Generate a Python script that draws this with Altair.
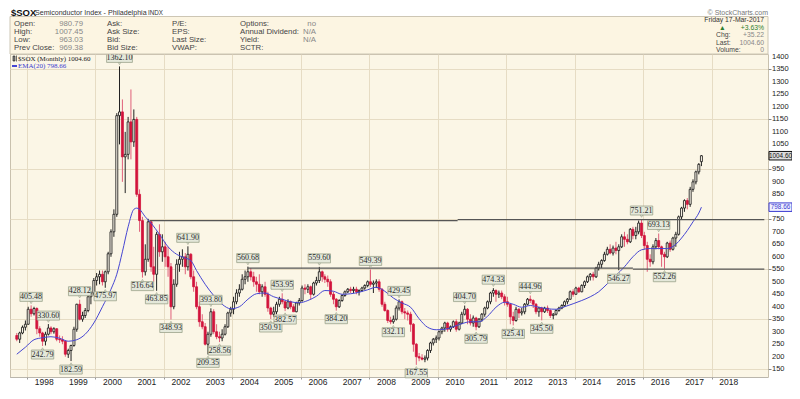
import altair as alt
import pandas as pd

FIRST_MONTH = "1997-03-01"

# Monthly OHLC of $SOX, Mar 1997 .. Mar 2017
O = [285, 270, 295, 318, 330, 390, 372, 393, 312, 295,
     262, 290, 315, 300, 312, 270, 268, 262, 210, 225, 245, 310,
     410, 350, 365, 385, 440, 455, 505, 520, 530, 500, 540, 612,
     700, 770, 1165, 1180, 1000, 1010, 1140, 1060, 1150, 850, 745, 540,
     590, 740, 560, 530, 690, 620, 640, 600, 560, 400, 490, 570,
     590, 600, 560, 610, 520, 480, 400, 340, 320, 250, 290, 380,
     300, 280, 275, 290, 320, 375, 390, 420, 455, 470, 510, 520,
     540, 520, 500, 490, 460, 480, 450, 395, 370, 380, 410, 430,
     420, 395, 420, 400, 380, 415, 425, 475, 470, 480, 450, 495,
     505, 540, 520, 510, 500, 450, 430, 400, 425, 445, 460, 470,
     465, 470, 460, 465, 475, 485, 500, 490, 495, 500, 470, 410,
     385, 345, 340, 350, 395, 420, 380, 375, 370, 330, 250, 200,
     195, 190, 195, 225, 255, 270, 275, 300, 315, 335, 310, 320,
     340, 310, 335, 370, 390, 350, 335, 355, 320, 350, 370, 395,
     420, 455, 465, 450, 455, 440, 420, 410, 360, 345, 390, 375,
     380, 410, 430, 425, 410, 380, 395, 380, 395, 385, 365, 370,
     385, 395, 405, 420, 430, 460, 450, 475, 460, 485, 500, 520,
     530, 520, 555, 570, 585, 610, 630, 615, 635, 625, 640, 680,
     670, 660, 710, 685, 700, 735, 685, 645, 590, 580, 640, 665,
     640, 610, 600, 655, 630, 675, 690, 760, 795, 825, 810, 870,
     900, 940, 980.79]
H = [295, 300, 325, 345, 400, 405.48, 400, 398, 322, 300,
     300, 330.60, 322, 318, 314, 285, 282, 265, 232, 248, 320, 412,
     428.12, 380, 395, 450, 462, 515, 535, 545, 545, 545, 620, 710,
     790, 1175, 1362.10, 1230, 1100, 1160, 1270, 1190, 1160, 870, 760, 650,
     752, 745, 640, 700, 730, 690, 660, 640, 575, 510, 590, 620,
     630, 615, 641.90, 615, 545, 500, 420, 370, 335, 300, 393.80, 390,
     330, 300, 310, 330, 380, 400, 440, 470, 490, 530, 545, 560.68,
     555, 540, 520, 530, 490, 500, 460, 400, 400, 420, 440, 453.95,
     425, 430, 425, 410, 420, 435, 485, 490, 490, 485, 500, 520,
     559.60, 545, 530, 525, 510, 460, 435, 430, 450, 465, 475, 480,
     480, 480, 470, 480, 490, 505, 549.39, 505, 510, 510, 475, 420,
     390, 360, 365, 405, 429.45, 425, 395, 385, 380, 335, 255, 215,
     210, 205, 230, 260, 275, 285, 305, 320, 340, 340, 325, 345,
     350, 340, 380, 404.70, 395, 370, 365, 360, 355, 375, 400, 425,
     460, 474.33, 470, 465, 465, 450, 440, 415, 380, 400, 395, 395,
     415, 435, 444.96, 430, 415, 400, 400, 400, 405, 390, 375, 390,
     400, 410, 425, 435, 465, 470, 480, 480, 490, 505, 525, 535,
     540, 560, 580, 590, 620, 640, 650, 645, 660, 650, 690, 700,
     690, 715, 720, 720, 745, 751.21, 700, 660, 610, 650, 675, 693.13,
     645, 620, 660, 665, 680, 700, 765, 800, 830, 835, 880, 910,
     945, 975, 1007.45]
L = [262, 255, 290, 305, 328, 360, 365, 290, 280, 242.79,
     245, 285, 290, 292, 262, 255, 250, 200, 195, 182.59, 240, 300,
     345, 340, 355, 378, 410, 445, 485, 490, 485, 475.97, 530, 600,
     680, 760, 1050, 900, 855, 990, 990, 1040, 840, 700, 516.64, 525,
     580, 540, 500, 463.85, 600, 580, 560, 520, 348.93, 390, 480, 540,
     560, 530, 545, 510, 460, 390, 320, 310, 245, 209.35, 280, 290,
     270, 258.56, 262, 285, 315, 360, 370, 410, 440, 465, 490, 500,
     505, 480, 460, 450, 440, 440, 380, 350.91, 360, 370, 400, 410,
     382.57, 390, 390, 385, 378, 405, 420, 450, 455, 430, 445, 485,
     495, 500, 495, 480, 440, 410, 384.20, 395, 420, 440, 455, 455,
     455, 450, 445, 460, 468, 478, 480, 455, 475, 460, 400, 380,
     335, 330, 332.11, 345, 385, 370, 350, 345, 300, 220, 167.55, 182,
     185, 178, 185, 215, 245, 255, 265, 290, 300, 300, 300, 315,
     300, 305, 330, 365, 330, 325, 320, 305.79, 315, 340, 360, 390,
     410, 440, 420, 435, 430, 405, 400, 330, 325.41, 340, 355, 365,
     370, 405, 415, 395, 370, 360, 345.50, 375, 375, 355, 350, 365,
     380, 390, 400, 410, 428, 440, 448, 455, 458, 475, 495, 505,
     505, 515, 545, 555, 580, 605, 610, 605, 610, 546.27, 635, 640,
     650, 655, 670, 670, 690, 675, 630, 540, 560, 570, 630, 630,
     560, 552.26, 595, 620, 625, 640, 685, 750, 780, 790, 800, 860,
     890, 930, 963.03]
C = [270, 295, 318, 330, 390, 372, 393, 312, 295, 262,
     290, 315, 300, 312, 270, 268, 262, 210, 225, 245, 310, 410,
     350, 365, 385, 440, 455, 505, 520, 530, 500, 540, 612, 700,
     770, 1165, 1180, 1000, 1010, 1140, 1060, 1150, 850, 745, 540, 590,
     740, 560, 530, 690, 620, 640, 600, 560, 400, 490, 570, 590,
     600, 560, 610, 520, 480, 400, 340, 320, 250, 290, 380, 300,
     280, 275, 290, 320, 375, 390, 420, 455, 470, 510, 520, 540,
     520, 500, 490, 460, 480, 450, 395, 370, 380, 410, 430, 420,
     395, 420, 400, 380, 415, 425, 475, 470, 480, 450, 495, 505,
     540, 520, 510, 500, 450, 430, 400, 425, 445, 460, 470, 465,
     470, 460, 465, 475, 485, 500, 490, 495, 500, 470, 410, 385,
     345, 340, 350, 395, 420, 380, 375, 370, 330, 250, 200, 195,
     190, 195, 225, 255, 270, 275, 300, 315, 335, 310, 320, 340,
     310, 335, 370, 390, 350, 335, 355, 320, 350, 370, 395, 420,
     455, 465, 450, 455, 440, 420, 410, 360, 345, 390, 375, 380,
     410, 430, 425, 410, 380, 395, 380, 395, 385, 365, 370, 385,
     395, 405, 420, 430, 460, 450, 475, 460, 485, 500, 520, 530,
     520, 555, 570, 585, 610, 630, 615, 635, 625, 640, 680, 670,
     660, 710, 685, 700, 735, 685, 645, 590, 580, 640, 665, 640,
     610, 600, 655, 630, 675, 690, 760, 795, 825, 810, 870, 900,
     940, 970, 1004.60]

# EMA(20) (month index from Mar 1997, value)
EMA_IDX = [0, 3, 6, 9, 12, 15, 18, 21, 24, 27, 30, 33, 35, 37, 39, 41, 42, 43, 45, 47,
           50, 53, 56, 59, 61, 63, 66, 69, 72, 75, 78, 81, 84, 87, 90, 93, 96, 99, 102, 105,
           108, 111, 114, 117, 120, 123, 126, 129, 132, 135, 138, 141, 144, 147, 150, 153, 156, 159, 162, 165,
           168, 171, 174, 177, 180, 183, 186, 189, 192, 195, 198, 201, 204, 207, 210, 213, 216, 219, 222, 225,
           228, 231, 233, 235, 237, 239, 240]
EMA_VAL = [210, 238, 268, 276, 280, 274, 262, 268, 290, 335, 400, 470, 530, 620, 720, 790, 795, 790, 760, 735,
           690, 640, 610, 595, 585, 545, 490, 445, 410, 392, 400, 430, 452, 455, 440, 430, 420, 416, 425, 442,
           465, 462, 450, 452, 458, 468, 478, 462, 435, 415, 398, 352, 318, 308, 310, 320, 332, 340, 340, 362,
           398, 418, 410, 398, 405, 398, 392, 390, 400, 412, 425, 440, 460, 492, 525, 560, 600, 628, 633, 633,
           633, 650, 675, 705, 740, 775, 798.66]

# annotated highs / lows (month index, H = high label, L = low label)
ANN_IDX = [5, 9, 11, 19, 22, 31, 36, 44, 49, 54, 60, 67, 68, 71, 81, 89, 93, 94, 106, 112,
           124, 132, 134, 140, 157, 161, 167, 174, 180, 184, 211, 219, 225, 227]
ANN_KIND = ["H", "L", "H", "L", "H", "L", "H", "L", "L", "L", "H", "L", "H", "L", "H", "L", "H", "L", "H", "L",
            "H", "L", "H", "L", "H", "L", "H", "L", "H", "L", "L", "H", "H", "L"]

# support / resistance lines: (start month idx, end month idx, level)
LINE_START = [46.5, 154.5, 81, 216]
LINE_END = [154.5, 262, 216, 262]
LINE_LEVEL = [745, 749, 555, 551]

YEARS = list(range(1998, 2019))
# right-axis labels shown (1000 and 800 sit under the price tags)
Y_TICKS = list(range(150, 1401, 50))
Y_LABELS = [v for v in Y_TICKS if v not in (800, 1000)]

# ---------------------------------------------------------------- build tables
months = pd.date_range(FIRST_MONTH, periods=len(C), freq="MS")
mid = months + pd.Timedelta(days=14)


def month_date(idx):
    base = pd.Timestamp(FIRST_MONTH)
    whole = int(idx)
    frac = idx - whole
    return base + pd.DateOffset(months=whole) + pd.Timedelta(days=14 + 30 * frac)


prev = [O[0]] + C[:-1]
RED = "#d2143c"
rows = []
for i in range(len(C)):
    black = C[i] >= prev[i]
    hollow = C[i] > O[i]
    stroke = "#111111" if black else RED
    if hollow:
        fill = "#fdf8ec"
    else:
        fill = "#8f8f8f" if black else RED
    rows.append({"date": mid[i], "open": O[i], "high": H[i], "low": L[i], "close": C[i],
                 "stroke": stroke, "fill": fill, "wick": "#222222" if black else "#e0607a"})
candles = pd.DataFrame(rows)

ema = pd.DataFrame({"date": [month_date(i) for i in EMA_IDX], "ema": EMA_VAL})

ann_rows = []
for i, k in zip(ANN_IDX, ANN_KIND):
    v = H[i] if k == "H" else L[i]
    t = f"{v:.2f}"
    w = 3.4 * len(t) + 2
    h = 9.0 / w
    ann_rows.append({"date": mid[i], "v": v, "t": t, "kind": k,
                     "shape": f"M-1,{-h:.4f}L1,{-h:.4f}L1,{h:.4f}L-1,{h:.4f}Z", "size": w * w})
ann = pd.DataFrame(ann_rows)

lines = pd.DataFrame({"d1": [month_date(a) for a in LINE_START],
                      "d2": [month_date(b) for b in LINE_END],
                      "lvl": LINE_LEVEL})

tags = pd.DataFrame({"v": [C[-1], EMA_VAL[-1]],
                     "t": [f"{C[-1]:.2f}", f"{EMA_VAL[-1]:.2f}"],
                     "stroke": ["#111111", "#3a3ad0"],
                     "fill": ["#dcdcdc", "#f0f0ff"]})

years = pd.DataFrame({"date": [pd.Timestamp(year=y, month=1, day=1) for y in YEARS],
                      "label": [str(y) for y in YEARS]})
yticks = pd.DataFrame({"v": Y_LABELS, "label": [str(v) for v in Y_LABELS]})

# ---------------------------------------------------------------- scales / axes
# whole page must stay inside 800x399 (8px body margin): svg 784 x 378
W, HT = 758, 323
X0, Y0 = 10, 54           # page position of plot origin
SANS = "Liberation Sans"
SERIF = "Liberation Serif"

xdom = [alt.DateTime(year=1997, month=2, date=24), alt.DateTime(year=2019, month=1, date=1)]
xticks = []
for y in range(1997, 2019):
    for m in (1, 7):
        if (y, m) != (1997, 1):
            xticks.append(alt.DateTime(year=y, month=m, date=1))
xscale = alt.Scale(domain=xdom)
yscale = alt.Scale(domain=[118.8, 1411.8], nice=False, zero=False)

x_axis = alt.Axis(values=xticks, grid=True, gridColor="#e6dcc4", gridWidth=1, labels=False,
                  tickSize=2, tickColor="#999", domainColor="#aaa", domainDash=[1, 1], title=None)
y_axis = alt.Axis(orient="right", values=Y_TICKS, grid=True, gridColor="#e6dcc4", gridWidth=1,
                  labels=False, tickSize=3, tickColor="#888", domain=False, title=None)

wicks = alt.Chart(candles).mark_rule(strokeWidth=1).encode(
    x=alt.X("date:T", scale=xscale, axis=x_axis),
    y=alt.Y("low:Q", scale=yscale, axis=y_axis),
    y2="high:Q",
    color=alt.Color("wick:N", scale=None),
)
bodies = alt.Chart(candles).mark_bar(width=2, strokeWidth=0.8).encode(
    x="date:T", y="open:Q", y2="close:Q",
    fill=alt.Fill("fill:N", scale=None),
    stroke=alt.Stroke("stroke:N", scale=None),
)
ema_line = alt.Chart(ema).mark_line(color="#4646d2", strokeWidth=1, interpolate="monotone").encode(
    x="date:T", y="ema:Q")
hlines = alt.Chart(lines).mark_rule(color="#555555", strokeWidth=1.2).encode(
    x="d1:T", x2="d2:T", y="lvl:Q")
year_txt = alt.Chart(years).mark_text(font=SANS, fontSize=8.5, color="#222", baseline="middle").encode(
    x="date:T", y=alt.value(HT + 5), text="label:N")
ytick_txt = alt.Chart(yticks).mark_text(font=SANS, fontSize=7.5, color="#222", baseline="middle",
                                        align="left").encode(
    x=alt.value(W + 4), y="v:Q", text="label:N")


def ann_layers(kind, off):
    d = ann[ann["kind"] == kind]
    box = alt.Chart(d).mark_point(filled=True, fill="#e4e8da", stroke="#9ca38c", strokeWidth=0.8,
                                  opacity=1, yOffset=off).encode(
        x="date:T", y="v:Q",
        shape=alt.Shape("shape:N", scale=None), size=alt.Size("size:Q", scale=None))
    tri = alt.Chart(d).mark_point(filled=True, fill="#e4e8da", stroke="#9ca38c", strokeWidth=0.6,
                                  opacity=1, size=9,
                                  shape="triangle-down" if kind == "H" else "triangle-up",
                                  yOffset=off / 2.8).encode(x="date:T", y="v:Q")
    txt = alt.Chart(d).mark_text(font=SERIF, fontSize=8, color="#2a2a2a", dy=off,
                                 baseline="middle").encode(x="date:T", y="v:Q", text="t:N")
    return [tri, box, txt]


tag_box = alt.Chart(tags).mark_point(filled=True, opacity=1, strokeWidth=1, size=23 * 23,
                                     shape="M-1,-0.37L1,-0.37L1,0.37L-1,0.37Z").encode(
    x=alt.value(W + 12.5), y="v:Q",
    fill=alt.Fill("fill:N", scale=None), stroke=alt.Stroke("stroke:N", scale=None))
tag_txt = alt.Chart(tags).mark_text(font=SANS, fontSize=6.4, baseline="middle").encode(
    x=alt.value(W + 12.5), y="v:Q", text="t:N",
    color=alt.Color("stroke:N", scale=None))

# ---------------------------------------------------------------- header
one = alt.Chart(pd.DataFrame({"k": [0]}))


def txt(s, px, py, size=7.8, color="#444", align="left", weight="normal", font=SANS):
    return one.mark_text(text=s, align=align, baseline="middle", fontSize=size, color=color,
                         fontWeight=weight, font=font).encode(
        x=alt.value(px - X0), y=alt.value(py - Y0))


header = [
    one.mark_rect(fill="#fcf5e2", stroke="#cdc6b4", strokeWidth=1).encode(
        x=alt.value(0), x2=alt.value(W), y=alt.value(16.5 - Y0), y2=alt.value(0)),
    txt("$SOX", 11, 13, size=9.5, color="#111", weight="bold"),
    txt("Semiconductor Index - Philadelphia", 35, 13, size=7.1, color="#333"),
    txt("INDX", 148, 13, size=6.3, color="#333"),
    txt("© StockCharts.com", 768, 13, size=7, color="#777", align="right"),
]
col1 = ["Open:", "High:", "Low:", "Prev Close:"]
col1v = ["980.79", "1007.45", "963.03", "969.38"]
col2 = ["Ask:", "Ask Size:", "Bid:", "Bid Size:"]
col3 = ["P/E:", "EPS:", "Last Size:", "VWAP:"]
col4 = ["Options:", "Annual Dividend:", "Yield:", "SCTR:"]
col4v = ["no", "N/A", "N/A", ""]
rowy = [24, 32, 40, 48]
for j, yy in enumerate(rowy):
    header.append(txt(col1[j], 14, yy))
    header.append(txt(col1v[j], 83, yy, color="#888", align="right"))
    header.append(txt(col2[j], 107, yy))
    header.append(txt(col3[j], 172, yy))
    header.append(txt(col4[j], 240, yy))
    if col4v[j]:
        header.append(txt(col4v[j], 316, yy, color="#888", align="right"))
RS = 6.8
header += [
    txt("Friday 17-Mar-2017", 764, 20, size=RS, color="#333", align="right"),
    txt("▲", 719, 27.6, size=RS, color="#2e7d2e"),
    txt("+3.63%", 764, 27.6, size=RS, color="#2e7d2e", align="right"),
    txt("Chg:", 716, 35.2, size=RS), txt("+35.22", 764, 35.2, size=RS, color="#888", align="right"),
    txt("Last:", 716, 42.8, size=RS), txt("1004.60", 764, 42.8, size=RS, color="#888", align="right"),
    txt("Volume:", 716, 50.4, size=RS), txt("0", 764, 50.4, size=RS, color="#888", align="right"),
]
legend = [
    one.mark_rect(fill="#888", stroke="#111", strokeWidth=0.6).encode(
        x=alt.value(3), x2=alt.value(5), y=alt.value(2), y2=alt.value(7)),
    one.mark_rule(color="#111", strokeWidth=0.6).encode(
        x=alt.value(6.5), y=alt.value(1.5), y2=alt.value(7.5)),
    txt("$SOX (Monthly) 1004.60", 18, 58.5, size=7, color="#222", font=SERIF),
    one.mark_rule(color="#4646d2", strokeWidth=2).encode(
        x=alt.value(2), x2=alt.value(7), y=alt.value(12)),
    txt("EMA(20) 798.66", 18, 66, size=7, color="#3a3ad0", font=SERIF),
]

layers = [wicks, bodies, ema_line, hlines, year_txt, ytick_txt] + ann_layers("H", -8.5) + \
         ann_layers("L", 8.5) + [tag_box, tag_txt] + header + legend

chart = alt.layer(*layers).properties(
    width=W, height=HT,
    padding={"left": 2, "top": 46, "right": 24, "bottom": 9},
    autosize=alt.AutoSizeParams(type="none"),
    background="#ffffff",
).configure_view(fill="#fbf6e6", stroke="#c9c1ae", strokeWidth=1)

chart.save("out.html", embed_options={"renderer": "svg", "actions": False})
